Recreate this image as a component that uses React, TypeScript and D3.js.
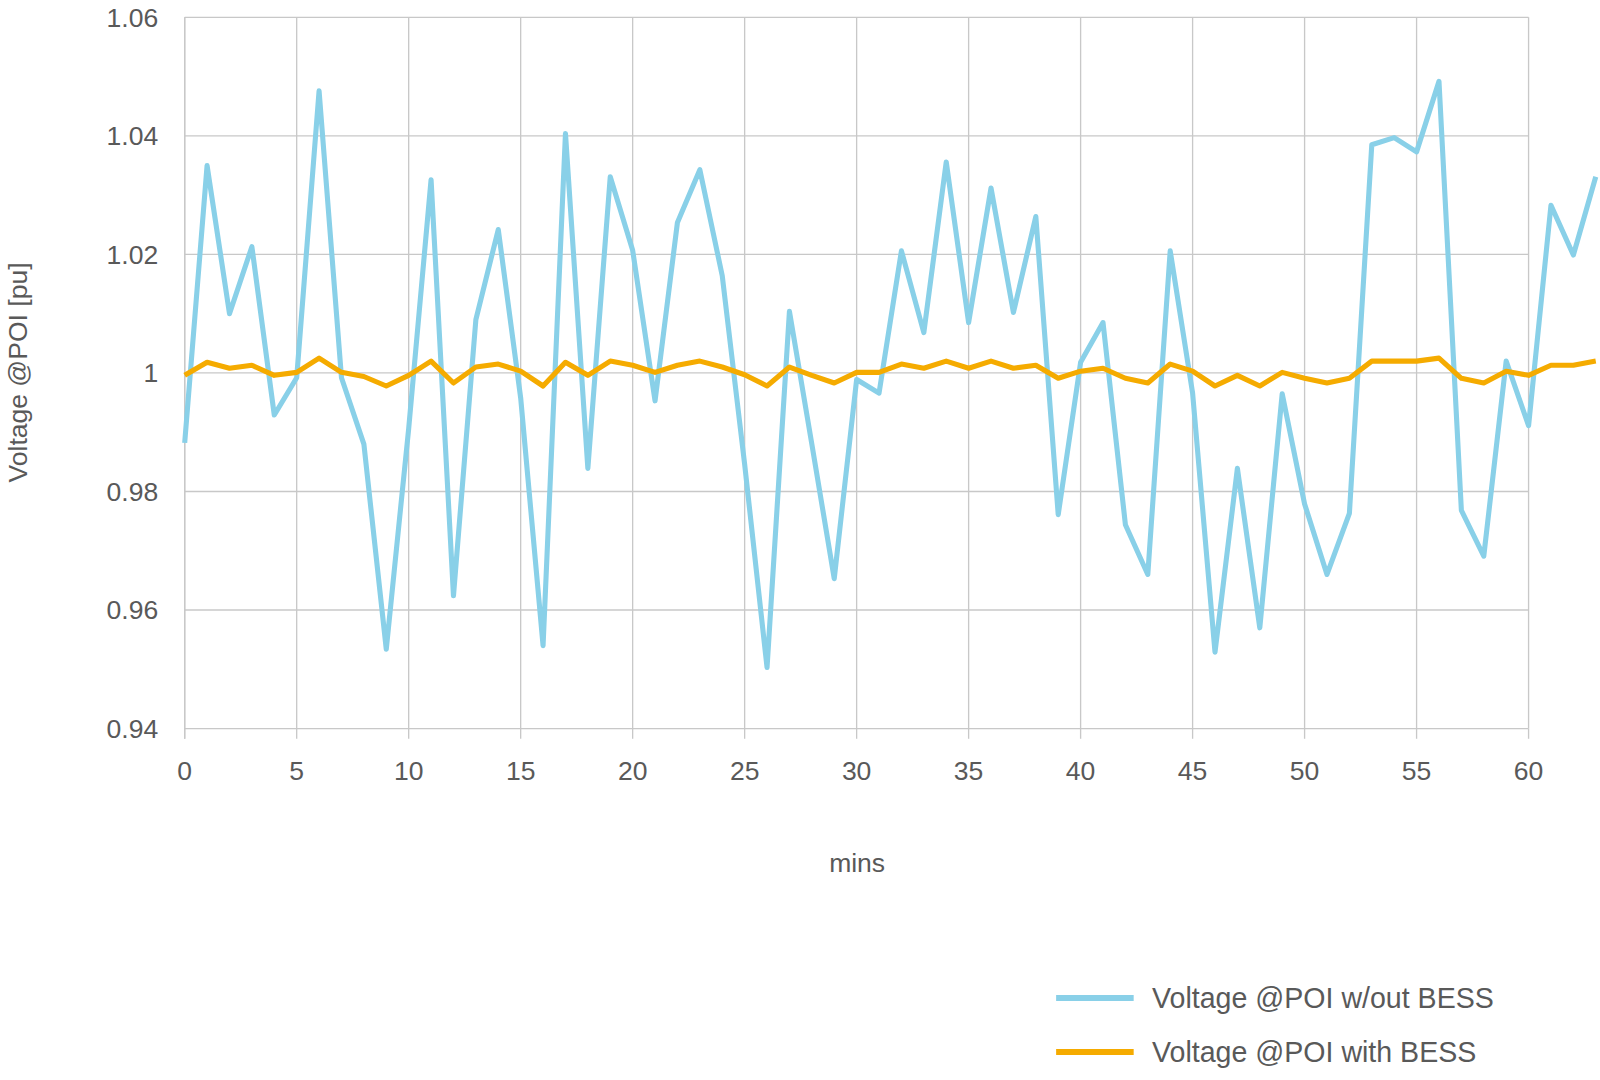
import React from 'react';
import * as d3 from 'd3';

const minutes = d3.range(0, 64);
const withoutBess = [
  0.9882, 1.035, 1.010, 1.0213, 0.9929, 0.9992, 1.0476, 0.9992, 0.988, 0.9534,
  0.9906, 1.0326, 0.9624, 1.009, 1.0242, 0.9958, 0.954, 1.0404, 0.9839, 1.0331,
  1.0207, 0.9953, 1.0254, 1.0343, 1.0164, 0.9846, 0.9503, 1.0104, 0.988, 0.9653,
  0.9989, 0.9966, 1.0206, 1.0068, 1.0356, 1.0085, 1.0312, 1.0102, 1.0264, 0.9761,
  1.0018, 1.0085, 0.9744, 0.966, 1.0206, 0.9966, 0.9529, 0.9839, 0.957, 0.9965,
  0.9779, 0.966, 0.9763, 1.0385, 1.0397, 1.0373, 1.0492, 0.9768, 0.9691, 1.002,
  0.9911, 1.0283, 1.0199, 1.0331,
];
const withBess = [
  0.9996, 1.0018, 1.0008, 1.0013, 0.9996, 1.0001, 1.0025, 1.0001, 0.9994, 0.9978,
  0.9996, 1.002, 0.9983, 1.001, 1.0015, 1.0003, 0.9978, 1.0018, 0.9996, 1.002,
  1.0013, 1.0001, 1.0013, 1.002, 1.001, 0.9997, 0.9978, 1.001, 0.9996, 0.9983,
  1.0001, 1.0001, 1.0015, 1.0008, 1.002, 1.0008, 1.002, 1.0008, 1.0013, 0.9991,
  1.0003, 1.0008, 0.9991, 0.9983, 1.0015, 1.0003, 0.9978, 0.9996, 0.9978, 1.0001,
  0.9991, 0.9983, 0.9991, 1.002, 1.002, 1.002, 1.0025, 0.9991, 0.9983, 1.0003,
  0.9996, 1.0013, 1.0013, 1.002,
];
const xTicks = [0, 5, 10, 15, 20, 25, 30, 35, 40, 45, 50, 55, 60];
const yTicks = [0.94, 0.96, 0.98, 1, 1.02, 1.04, 1.06];
const legendLabels = ['Voltage @POI w/out BESS', 'Voltage @POI with BESS'];
const colors = ['#89d0e8', '#f5ab00'];

const App: React.FC = () => {
  const x = d3.scaleLinear().domain([0, 60]).range([181, 1498]);
  const y = d3.scaleLinear().domain([0.94, 1.06]).range([714, 17]);
  const line = d3.line<number>().x((_, i) => x(minutes[i])).y((d) => y(d));
  const font = { fontFamily: 'Liberation Sans, Arial, sans-serif', fill: '#595959', fontSize: 26 };

  return (
    <svg width={1600} height={1080} viewBox="0 0 1568 1058.4" style={{ position: 'absolute', left: 0, top: 0, background: '#fff' }}>
      {xTicks.map((t) => (
        <line key={'gx' + t} x1={x(t)} x2={x(t)} y1={y(1.06)} y2={y(0.94)} stroke="#c8c8c8" strokeWidth={1.3} />
      ))}
      {yTicks.map((t) => (
        <line key={'gy' + t} x1={x(0)} x2={x(60)} y1={y(t)} y2={y(t)} stroke="#c8c8c8" strokeWidth={1.3} />
      ))}
      <line x1={x(0)} x2={x(0)} y1={y(1.06)} y2={y(0.94) + 10} stroke="#c8c8c8" strokeWidth={1.3} />
      {xTicks.map((t) => (
        <line key={'tx' + t} x1={x(t)} x2={x(t)} y1={y(0.94)} y2={y(0.94) + 10} stroke="#c8c8c8" strokeWidth={1.3} />
      ))}
      {xTicks.map((t) => (
        <text key={'lx' + t} x={x(t)} y={764} textAnchor="middle" {...font}>{t}</text>
      ))}
      {yTicks.map((t) => (
        <text key={'ly' + t} x={155} y={y(t) + 9} textAnchor="end" {...font}>{t === 1 ? '1' : t.toFixed(2)}</text>
      ))}
      <text transform="translate(26,365) rotate(-90)" textAnchor="middle" {...font}>Voltage @POI [pu]</text>
      <text x={840} y={855} textAnchor="middle" {...font}>mins</text>
      <path d={line(withoutBess) ?? ''} fill="none" stroke={colors[0]} strokeWidth={5} strokeLinejoin="round" />
      <path d={line(withBess) ?? ''} fill="none" stroke={colors[1]} strokeWidth={5} strokeLinejoin="round" />
      {legendLabels.map((l, i) => (
        <g key={l} transform={`translate(1035,${978 + i * 53})`}>
          <line x1={0} x2={76} y1={0} y2={0} stroke={colors[i]} strokeWidth={6} />
          <text x={94} y={10} {...font} fontSize={28}>{l}</text>
        </g>
      ))}
    </svg>
  );
};

export default App;
